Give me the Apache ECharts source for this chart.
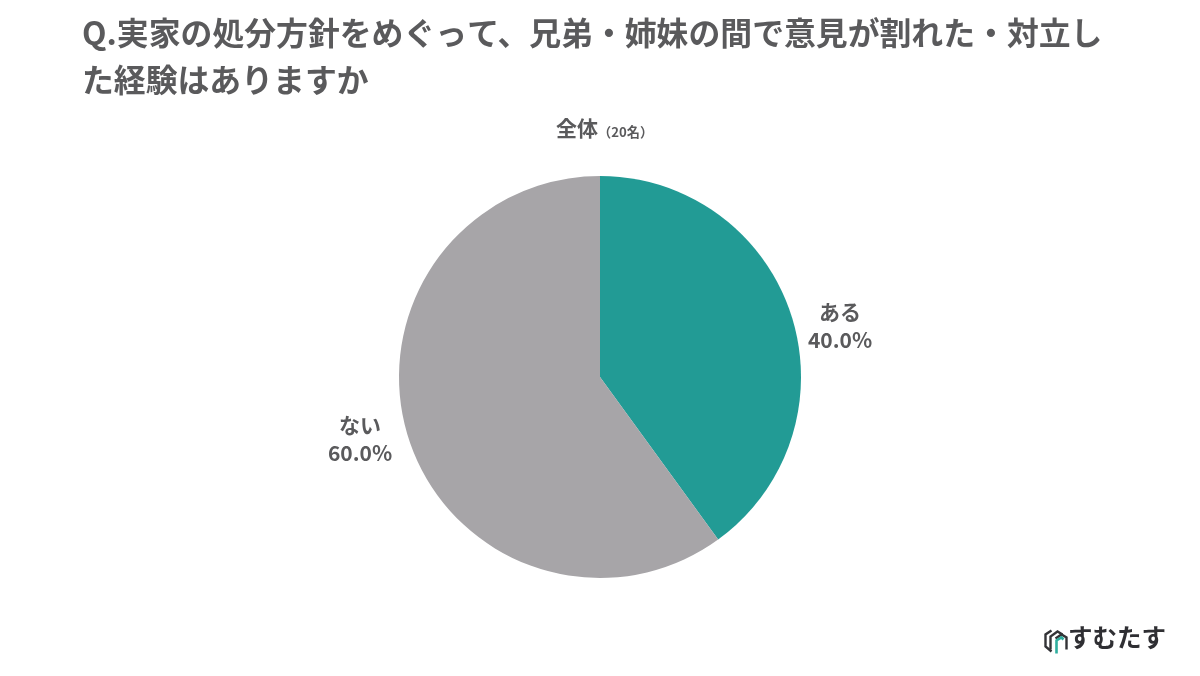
<!DOCTYPE html>
<html><head><meta charset="utf-8">
<style>html,body{margin:0;padding:0;background:#fff}#c{width:1200px;height:676px}</style>
<script src="https://cdn.jsdelivr.net/npm/echarts@6/dist/echarts.min.js"></script>
</head><body><div id="c"></div>
<script>
const titleLines = ['Q.実家の処分方針をめぐって、兄弟・姉妹の間で意見が割れた・対立し', 'た経験はありますか'];
const groupName = '全体';
const groupCount = '（20名）';
const categories = ['ある', 'ない'];
const values = [40.0, 60.0];
const colors = ['#229b95', '#a7a5a8'];
const brand = 'すむたす';
const font = '"Noto Sans CJK JP","Noto Sans",sans-serif';
const chart = echarts.init(document.getElementById('c'), null, {renderer:'canvas'});
chart.setOption({
  animation:false,
  backgroundColor:'#fff',
  title:{
    text:titleLines.join('\n'),
    left:77, top:4,
    textStyle:{color:'#5a5a5c',fontFamily:font,fontSize:31.85,fontWeight:700,lineHeight:47}
  },
  graphic:[
    {type:'text',left:556,top:118,style:{
      text:'{a|'+groupName+'}{b|'+groupCount+'}',
      rich:{a:{fontFamily:font,fontSize:21,fontWeight:700,fill:'#5a5a5c'},
            b:{fontFamily:font,fontSize:13.2,fontWeight:700,fill:'#5a5a5c',padding:[7,0,0,0]}}}},
    {type:'group',left:1043,top:628,children:[
      {type:'polyline',shape:{points:[[7,1],[1,5],[1,17],[7,22]]},style:{fill:'none',stroke:'#333337',lineWidth:2.4}},
      {type:'polyline',shape:{points:[[6,20],[6,7],[13,2],[18,5]]},style:{fill:'none',stroke:'#333337',lineWidth:2.4}},
      {type:'polyline',shape:{points:[[11,9],[17,5],[22,8],[22,20]]},style:{fill:'none',stroke:'#333337',lineWidth:2.4}},
      {type:'polyline',shape:{points:[[12,24],[12,11],[17,8],[19,10]]},style:{fill:'none',stroke:'#2fae9f',lineWidth:2.6}}
    ]},
    {type:'text',left:1068,top:625,style:{text:brand,fontFamily:font,fontSize:24.5,fontWeight:700,fill:'#2f2f33'}}
  ],
  series:[{
    type:'pie',
    center:[600,377],
    radius:[0,201],
    startAngle:90,
    clockwise:true,
    silent:true,
    data:categories.map((n,i)=>({name:n,value:values[i],itemStyle:{color:colors[i]}})),
    label:{show:true,position:'outside',
      formatter:p=>p.name+'\n'+p.value.toFixed(1)+'%',
      color:'#5a5a5c',fontFamily:font,fontSize:21,fontWeight:700,lineHeight:28,align:'center'},
    labelLine:{show:false},
    labelLayout:p=>p.dataIndex===0?{x:840,y:326,align:'center',verticalAlign:'middle'}:{x:360,y:439,align:'center',verticalAlign:'middle'}
  }]
});
</script></body></html>
